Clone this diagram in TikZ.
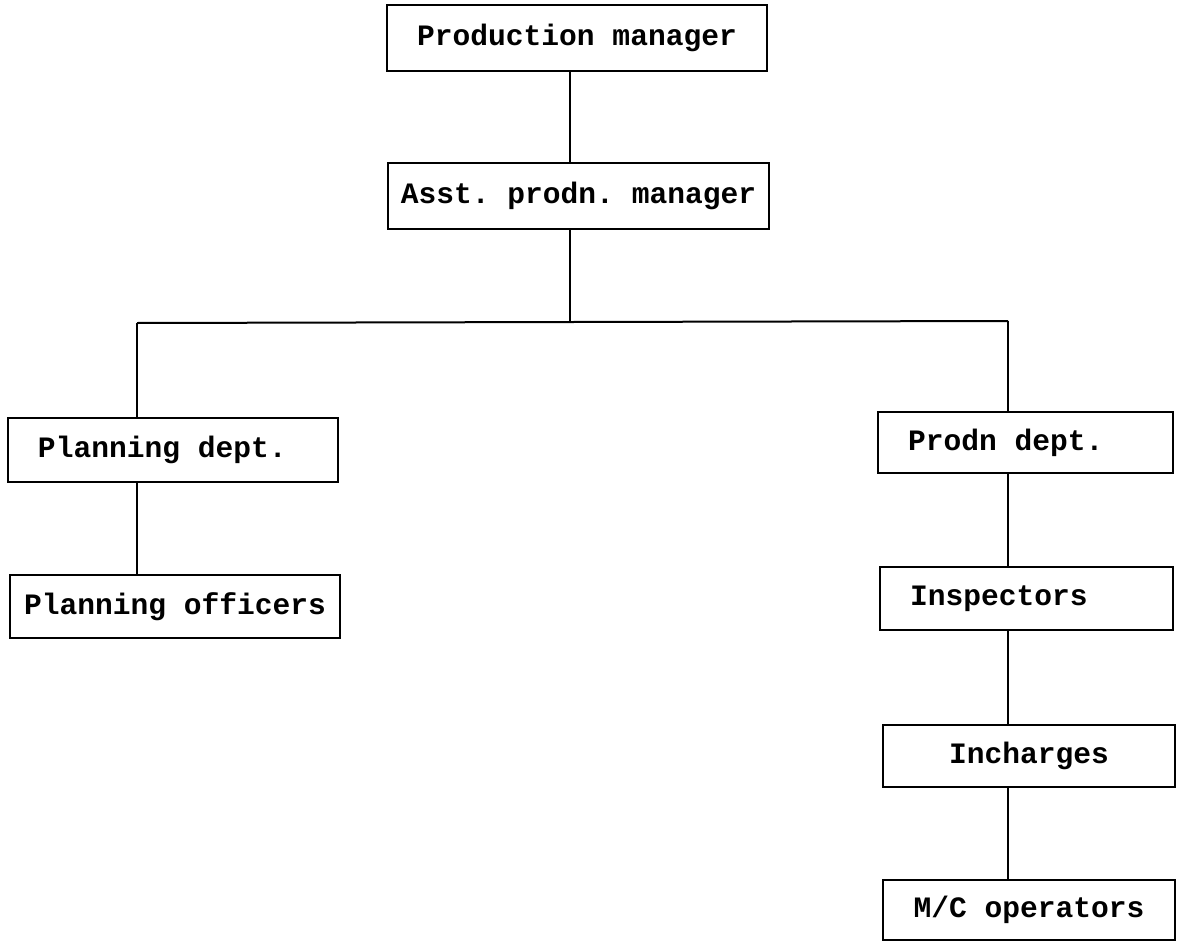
\documentclass[tikz,border=0pt]{standalone}
\usepackage{fontspec}
\setmonofont{Liberation Mono}
\tikzset{
  post/.style={draw, line width=1pt, inner sep=0pt,
    font=\ttfamily\bfseries\fontsize{14.8}{16}\selectfont}
}
% text set flush left in a box of given width
\newcommand{\leftin}[2]{\makebox[#1][l]{#2}}
\begin{document}
\begin{tikzpicture}[x=0.5pt,y=-0.5pt]
      \useasboundingbox (0,0) rectangle (1179,942);
      \draw
        (577,38) node[post,minimum width=190pt,minimum height=33pt] (pm){Production manager}
        (578.5,196) node[post,minimum width=190.5pt,minimum height=33pt] (apm){Asst. prodn. manager}
        (173,450) node[post,minimum width=165pt,minimum height=32pt] (pd){\leftin{135pt}{Planning dept.}}
        (175,606.5) node[post,minimum width=165pt,minimum height=31.5pt] (po){Planning officers}
        (1025.5,442.5) node[post,minimum width=147.5pt,minimum height=30.5pt] (prd){\leftin{117.5pt}{Prodn dept.}}
        (1026.5,598.5) node[post,minimum width=146.5pt,minimum height=31.5pt] (ins){\leftin{116.5pt}{Inspectors}}
        (1029,756) node[post,minimum width=146pt,minimum height=31pt] (inc){Incharges}
        (1029,910) node[post,minimum width=146pt,minimum height=30pt] (mco){M/C operators};
      \coordinate (busm) at (570,322);
      \coordinate (busl) at (137,323);
      \coordinate (busr) at (1008,321);
      \begin{scope}[line width=1pt]
        \draw (pm.south -| busm) to (apm.north -| busm);
        \draw (apm.south -| busm) to (busm);
        \draw (busl) to (busr);
        \draw (busl) to (pd.north -| busl);
        \draw (pd.south -| busl) to (po.north -| busl);
        \draw (busr) to (prd.north -| busr);
        \draw (prd.south -| busr) to (ins.north -| busr);
        \draw (ins.south -| busr) to (inc.north -| busr);
        \draw (inc.south -| busr) to (mco.north -| busr);
      \end{scope}
    \end{tikzpicture}
\end{document}
